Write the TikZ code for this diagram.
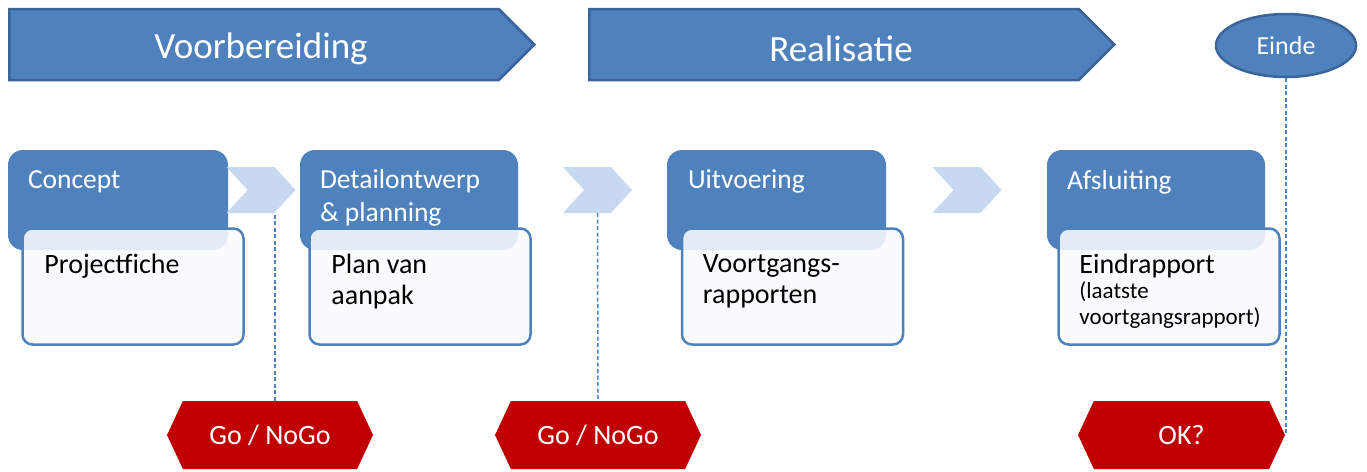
\documentclass[tikz,border=0pt]{standalone}
\usepackage{fontspec}
\setmainfont{Carlito}
\usetikzlibrary{shapes.geometric, shapes.symbols, positioning, calc}
\definecolor{phaseblue}{HTML}{4F81BD}
\definecolor{phaseblueborder}{HTML}{3A659A}
\definecolor{stepchevron}{HTML}{C6D9F1}
\definecolor{docfill}{HTML}{F9FAFD}
\definecolor{gatered}{HTML}{C00000}
\definecolor{gatedash}{HTML}{4F81BD}

\begin{document}
\begin{tikzpicture}[x=1pt, y=-1pt,
      banner/.style={signal, signal to=east, signal pointer angle=90,
        fill=phaseblue, draw=phaseblueborder, line width=2.5pt,
        minimum width=525pt, minimum height=71pt, inner sep=0pt,
        anchor=west},
      bannertext/.style={xshift=7pt, yshift=-4pt, text=white,
        font=\fontsize{37}{40}\selectfont},
      phasehead/.style={fill=phaseblue, rounded corners=15pt,
        minimum height=100pt, inner sep=0pt},
      phasetext/.style={anchor=north west, inner sep=0pt, align=left,
        text=white, font=\fontsize{27.5}{33}\selectfont},
      docbox/.style={fill=docfill, fill opacity=0.88, draw=phaseblue,
        line width=2.5pt, rounded corners=10pt, minimum width=221pt,
        minimum height=116pt, inner sep=0pt},
      doctext/.style={anchor=north west, inner sep=0pt, align=left,
        font=\fontsize{28}{31}\selectfont},
      chevron/.style={signal, signal from=west, signal to=east,
        signal pointer angle=95, fill=stepchevron, minimum width=69pt,
        minimum height=46pt, inner sep=0pt},
      gate/.style={signal, signal to=west and east, signal pointer angle=130,
        fill=gatered, minimum width=206pt, minimum height=68pt, inner sep=0pt,
        text=white, font=\fontsize{28}{31}\selectfont},
      gateline/.style={draw=gatedash, line width=1.5pt,
        dash pattern=on 4pt off 2.5pt}
    ]
      \useasboundingbox (0,0) rectangle (1367,471);

      % phases
      \node[banner, label={[bannertext]center:Voorbereiding}] (prep) at (8,44.5) {};
      \node[banner, label={[bannertext]center:Realisatie}] (real) at (588,44.5) {};
      \node[ellipse, fill=phaseblue, draw=phaseblueborder, line width=2.5pt,
        minimum width=140pt, minimum height=63pt, text=white,
        font=\fontsize{26}{30}\selectfont] (einde) at (1286,45.5) {Einde};

      % steps
      \node[phasehead, minimum width=220pt] (concept) at (118,200) {};
      \node[phasehead, minimum width=218pt] (detail) at (409,200) {};
      \node[phasehead, minimum width=219pt] (uitvoering) at (776.5,200) {};
      \node[phasehead, minimum width=218pt] (afsluiting) at (1156,200) {};

      \node[chevron] (chev1) at (261,190) {};
      \node[chevron] (chev2) at (597.5,190) {};
      \node[chevron] (chev3) at (967,190) {};

      \node[docbox] (fiche) at ([shift={(15,86.5)}]concept) {};
      \node[docbox] (aanpak) at ([shift={(11,86.5)}]detail) {};
      \node[docbox] (rapporten) at ([shift={(16,86.5)}]uitvoering) {};
      \node[docbox] (eindrapport) at ([shift={(13,86.5)}]afsluiting) {};

      \node[phasetext] (concepttxt) at ([shift={(20,21)}]concept.north west) {Concept};
      \node[phasetext] (detailtxt) at ([shift={(20,19)}]detail.north west)
        {Detailontwerp\\\& planning};
      \node[phasetext] (uitvoeringtxt) at ([shift={(21,20)}]uitvoering.north west) {Uitvoering};
      \node[phasetext] (afsluitingtxt) at ([shift={(20,20)}]afsluiting.north west) {Afsluiting};

      \node[doctext] (fichetxt) at ([shift={(23,27)}]fiche.north west) {Projectfiche};
      \node[doctext] (aanpaktxt) at ([shift={(23,27)}]aanpak.north west) {Plan van\\aanpak};
      \node[doctext] (rapportentxt) at ([shift={(22,27)}]rapporten.north west)
        {Voortgangs-\\rapporten};
      \node[doctext] (eindrapporttxt) at ([shift={(22,27)}]eindrapport.north west) {Eindrapport};
      \node[doctext, font=\fontsize{23}{26}\selectfont, below=3pt of eindrapporttxt.south west,
        anchor=north west] (eindnote) {(laatste\\voortgangsrapport)};

      % decision points
      \node[gate] (gate1) at (270,435) {Go / NoGo};
      \node[gate] (gate2) at (598,435) {Go / NoGo};
      \node[gate, minimum width=207pt] (gate3) at (1181.5,435) {OK?};

      \draw[gateline] ([xshift=5pt]gate1.north) -- ([xshift=5pt]gate1.north |- chev1.south);
      \draw[gateline] (chev2.south) -- (gate2.north);
      \draw[gateline] (einde.south) -- (einde.south |- gate3.east);
    \end{tikzpicture}
\end{document}
